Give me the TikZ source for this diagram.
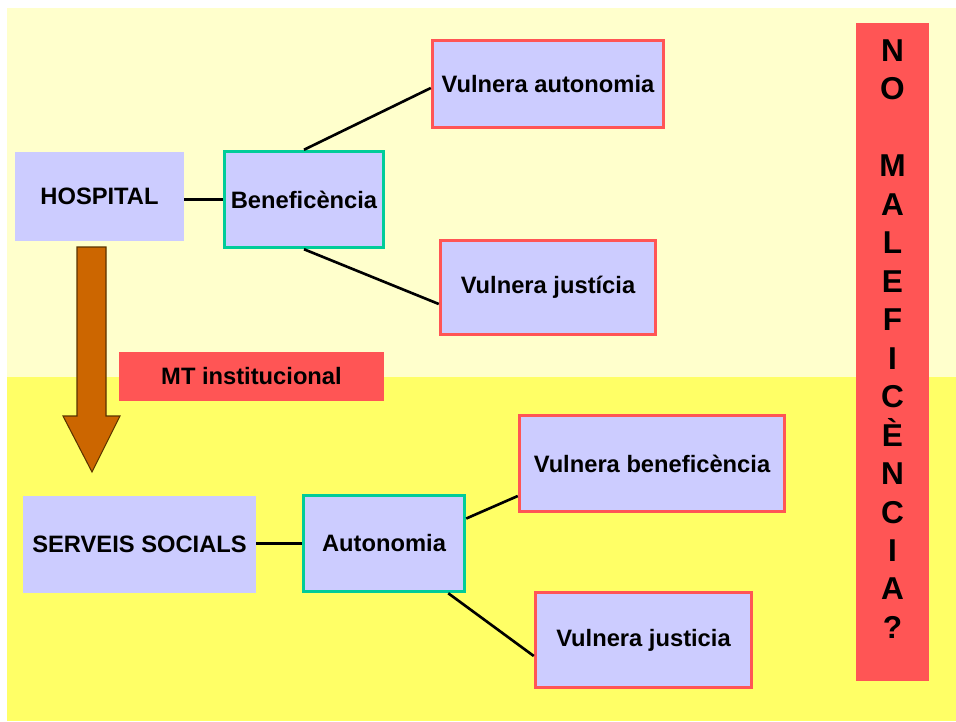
\documentclass[tikz,border=0pt]{standalone}
\usepackage{fontspec}
\setmainfont{Liberation Sans}
\usepackage{xcolor}
\usetikzlibrary{positioning,calc}
\definecolor{paleyellow}{HTML}{FFFFCC}
\definecolor{brightyellow}{HTML}{FFFF66}
\definecolor{lavender}{HTML}{CCCCFF}
\definecolor{mintgreen}{HTML}{00CC99}
\definecolor{salmonred}{HTML}{FF5555}
\definecolor{rust}{HTML}{CC6600}
\definecolor{rustdark}{HTML}{5A3300}
\tikzset{
plainbox/.style={
fill=lavender,
inner sep=2pt,
align=center,
font=\fontsize{13.5}{16}\bfseries\selectfont
},
greenbox/.style={
plainbox,
draw=mintgreen,
line width=2pt
},
redbox/.style={
plainbox,
draw=salmonred,
line width=2pt
},
link/.style={
line width=1.5pt
},
thicklink/.style={
line width=2pt
}
}

\begin{document}
\begin{tikzpicture}[x=0.02cm,y=-0.02cm]
\useasboundingbox (0,0) rectangle (956,721);
\fill[white] (0,0) rectangle (956,721);
\fill[paleyellow] (7,8) rectangle (956,377);
\fill[brightyellow] (7,377) rectangle (956,721);

% top half
\node[plainbox,minimum width=3.38cm,minimum height=1.78cm] (hosp) at (99.5,196.5) {HOSPITAL};
\node[greenbox,minimum width=3.18cm,minimum height=1.92cm] (benef) at (304,199.5) {Beneficència};
\node[redbox,minimum width=4.62cm,minimum height=1.74cm] (vaut) at (548,84) {Vulnera autonomia};
\node[redbox,minimum width=4.30cm,minimum height=1.88cm] (vjus) at (548,287.5) {Vulnera justícia};

\draw[thicklink] (benef.west) -- (benef.west -| hosp.east);
\draw[link] (benef.north) -- ([yshift=-0.08cm]vaut.west);
\draw[link] (benef.south) -- ([yshift=-0.33cm]vjus.west);

% transfer
\node[fill=salmonred,minimum width=5.30cm,minimum height=0.98cm,
font=\fontsize{13.5}{16}\bfseries\selectfont] (mt) at (251.5,376.5) {MT institucional};
\draw[fill=rust,draw=rustdark,line width=0.6pt]
(77,247) -- (106,247) -- (106,416) -- (120,416) -- (92,472) -- (63,416) -- (77,416) -- cycle;

% bottom half
\node[plainbox,minimum width=4.66cm,minimum height=1.94cm] (serv) at (139.5,544.5) {SERVEIS SOCIALS};
\node[greenbox,minimum width=3.22cm,minimum height=1.92cm] (auto) at (384,543.5) {Autonomia};
\node[redbox,minimum width=5.30cm,minimum height=1.92cm] (vben) at (652,463.5) {Vulnera beneficència};
\node[redbox,minimum width=4.32cm,minimum height=1.90cm] (vjus2) at (643.5,640) {Vulnera justicia};

\draw[thicklink] (auto.west) -- (auto.west -| serv.east);
\draw[link] ([yshift=0.5cm]auto.east) -- ([yshift=-0.65cm]vben.west);
\draw[link] ([xshift=-0.36cm]auto.south east) -- ([yshift=-0.32cm]vjus2.west);

% side bar
\node[fill=salmonred,minimum width=1.46cm,minimum height=13.16cm] (bar) at (892.5,352) {};
\node[align=center,font=\fontsize{18}{21.9}\bfseries\selectfont,yshift=0.26cm] (bartext) at (bar.center)
{N\\O\\[21.9pt]M\\A\\L\\E\\F\\I\\C\\È\\N\\C\\I\\A\\?};
\end{tikzpicture}
\end{document}
